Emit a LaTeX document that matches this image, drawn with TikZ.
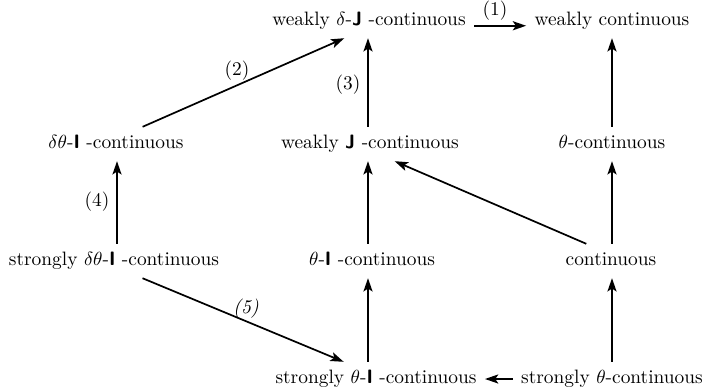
\documentclass[tikz,border=0pt]{standalone}
\usetikzlibrary{arrows.meta}
\newcommand\myJ{\textbf{\textsf{J}}}
\newcommand\myI{\textbf{\textsf{I}}}
\begin{document}
\begin{tikzpicture}[x=0.526pt,y=-0.526pt,
  every node/.style={font=\fontsize{10.2pt}{12.6pt}\selectfont},
  lbl/.style={inner sep=0pt, outer sep=4.5pt, text height=7.1pt, text depth=2pt},
  arr/.style={line width=0.9pt, -{Stealth[length=7pt,width=4.8pt,inset=1.6pt]}},
  num/.style={inner sep=0pt}]
\useasboundingbox (0,0) rectangle (705,388);
% columns
\coordinate (colA) at (117,0);
\coordinate (colB) at (368,0);
\coordinate (colC) at (612,0);
% nodes
\node[lbl] (wdj)  at (369,21)  {weakly $\delta$-\myJ\ -continuous};
\node[lbl] (wc)   at (612,21)  {weakly continuous};
\node[lbl] (dti)  at (116,144) {$\delta\theta$-\myI\ -continuous};
\node[lbl] (wj)   at (370,144) {weakly \myJ\ -continuous};
\node[lbl] (tc)   at (612,144) {$\theta$-continuous};
\node[lbl] (sdti) at (114,261) {strongly $\delta\theta$-\myI\ -continuous};
\node[lbl] (ti)   at (372,261) {$\theta$-\myI\ -continuous};
\node[lbl] (c)    at (611,261) {continuous};
\node[lbl] (sti)  at (376,379) {strongly $\theta$-\myI\ -continuous};
\node[lbl] (stc)  at (612,379) {strongly $\theta$-continuous};
% arrows
\draw[arr] ([yshift=-2.5pt]wdj.east) -- ([yshift=-2.5pt]wc.west);
\draw[arr] ([xshift=14pt]dti.north) -- ([xshift=-13pt]wdj.south);
\draw[arr] (wj.north -| colB) -- (wdj.south -| colB);
\draw[arr] (tc.north -| colC) -- (wc.south -| colC);
\draw[arr] (ti.north -| colB) -- (wj.south -| colB);
\draw[arr] (c.north -| colC) -- (tc.south -| colC);
\draw[arr] ([xshift=-13pt]c.north) -- ([xshift=13pt]wj.south);
\draw[arr] (sdti.north -| colA) -- (dti.south -| colA);
\draw[arr] ([xshift=15pt]sdti.south) -- ([xshift=-17pt]sti.north);
\draw[arr] (sti.north -| colB) -- (ti.south -| colB);
\draw[arr] (stc.north -| colC) -- (c.south -| colC);
\draw[arr] (stc.west) -- (sti.east);
% labels
\node[num] (l1) at (495,11)  {(1)};
\node[num] (l2) at (237,71)  {(2)};
\node[num] (l3) at (348,85)  {(3)};
\node[num] (l4) at (97,202)  {(4)};
\node[num] (l5) at (246,309) {\textit{(5)}};
\end{tikzpicture}
\end{document}
